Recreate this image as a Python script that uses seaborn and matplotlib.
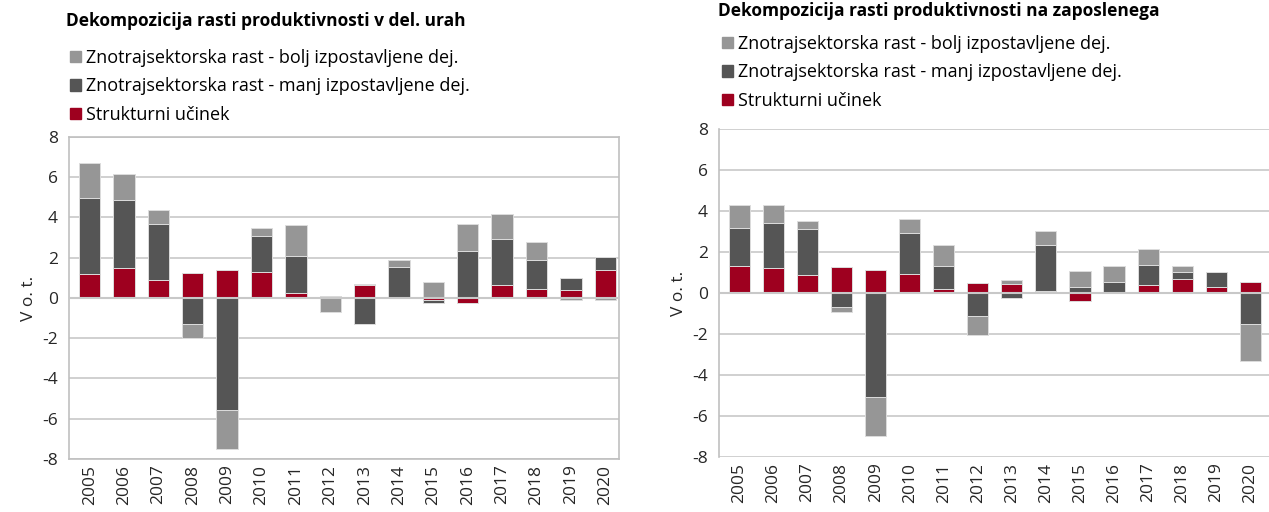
import numpy as np
import pandas as pd
import seaborn as sns
import matplotlib.pyplot as plt
from matplotlib.patches import Patch

years = [str(y) for y in range(2005, 2021)]

# levo: na delovno uro
ure_strukt = [1.2, 1.5, 0.9, 1.23, 1.38, 1.3, 0.27, 0.02, 0.66, 0.03, -0.1, -0.25, 0.63, 0.46, 0.41, 1.38]
ure_manj = [3.75, 3.35, 2.77, -1.3, -5.57, 1.8, 1.84, 0.1, -1.29, 1.5, -0.15, 2.34, 2.32, 1.43, 0.59, 0.68]
ure_bolj = [1.75, 1.3, 0.7, -0.7, -1.94, 0.38, 1.51, -0.7, 0.05, 0.38, 0.78, 1.36, 1.2, 0.9, -0.1, -0.1]

# desno: na zaposlenega
zap_strukt = [1.3, 1.2, 0.86, 1.28, 1.1, 0.91, 0.21, 0.49, 0.46, 0.08, -0.37, 0.05, 0.41, 0.67, 0.31, 0.55]
zap_manj = [1.85, 2.2, 2.24, -0.68, -5.07, 2.03, 1.11, -1.1, -0.26, 2.25, 0.28, 0.49, 0.97, 0.34, 0.71, -1.5]
zap_bolj = [1.14, 0.89, 0.41, -0.26, -1.92, 0.68, 1.04, -0.96, 0.19, 0.68, 0.78, 0.76, 0.78, 0.29, 0.0, -1.83]

series = ['Strukturni učinek',
          'Znotrajsektorska rast - manj izpostavljene dej.',
          'Znotrajsektorska rast - bolj izpostavljene dej.']
colors = ['#9E001F', '#555555', '#969696']

sns.set_style('white')
plt.rcParams['font.family'] = ['Open Sans', 'DejaVu Sans']
plt.rcParams['axes.unicode_minus'] = False
plt.rcParams['text.color'] = '#000000'

fig = plt.figure(figsize=(12.69, 5.12), dpi=100)
ax1 = fig.add_axes([0.0544, 0.1035, 0.4334, 0.629])
ax2 = fig.add_axes([0.5666, 0.1074, 0.4334, 0.6406])


def stacked(ax, cols):
    df = pd.DataFrame(dict(zip(series, cols)), index=years)
    pos = np.zeros(len(years))
    neg = np.zeros(len(years))
    for name, c in zip(series, colors):
        v = df[name].values
        bottom = np.where(v >= 0, pos, neg)
        ax.bar(df.index, v, bottom=bottom, width=0.62, color=c,
               edgecolor='#dcdcdc', linewidth=0.7, zorder=2)
        pos = pos + np.clip(v, 0, None)
        neg = neg + np.clip(v, None, 0)
    ax.set_ylim(-8, 8)
    ax.set_xlim(-0.6, len(years) - 0.6)
    ax.set_yticks(range(-8, 9, 2))
    ax.grid(axis='y', color='#c8c8c8', linewidth=1.2, zorder=0)
    ax.axhline(0, color='#c8c8c8', linewidth=1.5, zorder=3)
    ax.tick_params(axis='x', rotation=90, labelsize=12.5, length=0, pad=4)
    ax.tick_params(axis='y', labelsize=12.5, length=0, pad=8)
    ax.set_ylabel('V o. t.', fontsize=12.5, labelpad=4)
    for s in ax.spines.values():
        s.set_color('#c0c0c0')
        s.set_linewidth(1.2)


stacked(ax1, [ure_strukt, ure_manj, ure_bolj])
stacked(ax2, [zap_strukt, zap_manj, zap_bolj])
ax2.set_xlim(-0.6, len(years) - 0.45)
ax2.spines['right'].set_visible(False)
ax2.spines['top'].set_visible(False)
ax2.spines['bottom'].set_visible(False)

handles = [Patch(color=c) for c in colors[::-1]]
labels = series[::-1]

fig.text(66 / 1269, 1 - 21 / 512, 'Dekompozicija rasti produktivnosti v del. urah',
         fontsize=12.5, fontweight='bold', va='center', ha='left')
fig.text(718 / 1269, 1 - 11 / 512, 'Dekompozicija rasti produktivnosti na zaposlenega',
         fontsize=12.5, fontweight='bold', va='center', ha='left')

for x0, y0 in [(70, 49), (722, 35)]:
    fig.legend(handles, labels, loc='upper left', frameon=False,
               bbox_to_anchor=(x0 / 1269, 1 - y0 / 512),
               fontsize=13, handlelength=0.6, handleheight=0.6,
               handletextpad=0.3, labelspacing=0.58, borderaxespad=0,
               borderpad=0)

fig.savefig('out.png', dpi=100)
